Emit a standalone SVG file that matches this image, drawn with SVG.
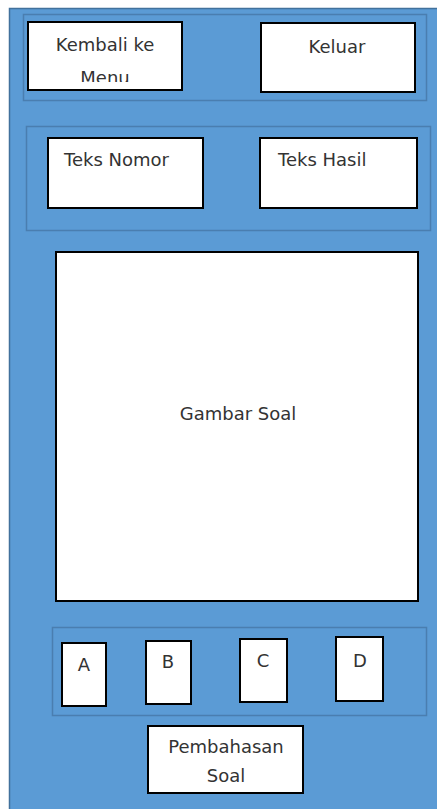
<svg xmlns="http://www.w3.org/2000/svg" width="437" height="809" viewBox="0 0 437 809">
<style>
.panel{fill:#5B9BD5;stroke:#41719C;stroke-width:1.5}
.grp{fill:none;stroke:#4A7EB0;stroke-width:1.5}
.box{fill:#FFFFFF;stroke:#000000;stroke-width:2}
.t{font-family:"DejaVu Sans",Verdana,sans-serif;font-size:18px;fill:#333333}
.c{text-anchor:middle}
</style>
<defs>
<clipPath id="clipMenu"><rect x="29" y="23" width="152" height="59"/></clipPath>
</defs>
<rect x="0" y="0" width="437" height="809" fill="#FFFFFF"/>
<rect class="panel" x="9.5" y="8.5" width="440" height="820"/>
<g id="group-top"><rect class="grp" x="23.5" y="14.5" width="403" height="86"/></g>
<g id="group-info"><rect class="grp" x="26.5" y="126.5" width="404" height="104"/></g>
<g id="group-options"><rect class="grp" x="52.5" y="627.5" width="374" height="88"/></g>
<g id="connectors"></g>
<g id="kembali">
<rect class="box" x="28" y="22" width="154" height="68"/>
<g clip-path="url(#clipMenu)">
<text class="t c" x="105" y="51">Kembali ke</text>
<text class="t c" x="105" y="84">Menu</text>
</g>
</g>
<g id="keluar">
<rect class="box" x="261" y="23" width="154" height="69"/>
<text class="t c" x="337" y="53">Keluar</text>
</g>
<g id="teks-nomor">
<rect class="box" x="48" y="138" width="155" height="70"/>
<text class="t" x="64" y="166">Teks Nomor</text>
</g>
<g id="teks-hasil">
<rect class="box" x="260" y="138" width="157" height="70"/>
<text class="t" x="278" y="166">Teks Hasil</text>
</g>
<g id="gambar-soal">
<rect class="box" x="56" y="252" width="362" height="349"/>
<text class="t c" x="238" y="420">Gambar Soal</text>
</g>
<g id="opsi-a">
<rect class="box" x="62" y="643" width="44" height="63"/>
<text class="t c" x="84" y="671">A</text>
</g>
<g id="opsi-b">
<rect class="box" x="146" y="641" width="45" height="63"/>
<text class="t c" x="168" y="668">B</text>
</g>
<g id="opsi-c">
<rect class="box" x="240" y="639" width="47" height="63"/>
<text class="t c" x="263" y="667">C</text>
</g>
<g id="opsi-d">
<rect class="box" x="336" y="637" width="47" height="64"/>
<text class="t c" x="360" y="667">D</text>
</g>
<g id="pembahasan">
<rect class="box" x="148" y="726" width="155" height="67"/>
<text class="t c" x="226" y="753" font-size="16.5">Pembahasan</text>
<text class="t c" x="226" y="782" font-size="16.5">Soal</text>
</g>
</svg>
